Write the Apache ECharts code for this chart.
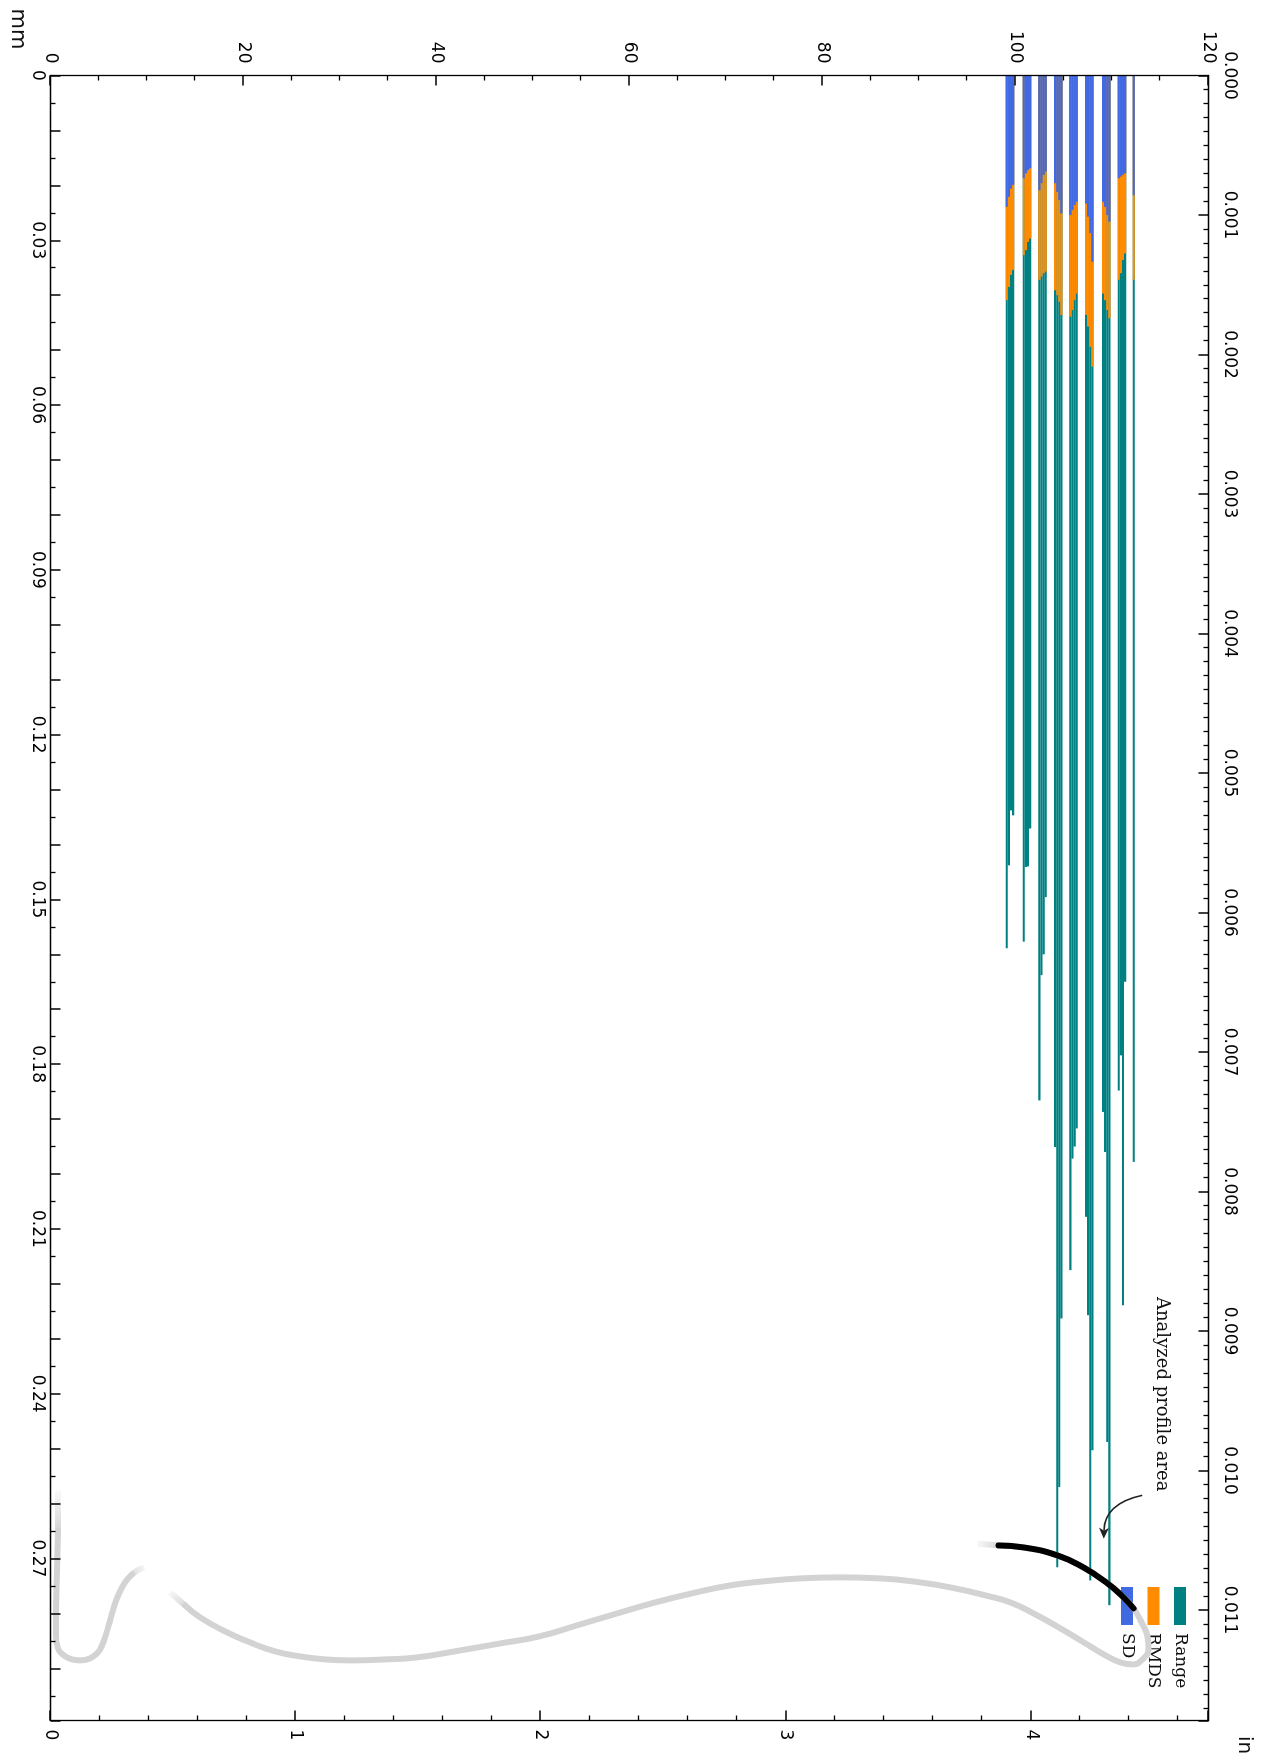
<!DOCTYPE html>
<html><head><meta charset="utf-8">
<script src="https://cdn.jsdelivr.net/npm/echarts@6/dist/echarts.min.js"></script>
<style>
html,body{margin:0;padding:0;width:1264px;height:1760px;overflow:hidden;background:#fff;}
#chart{position:absolute;left:0;top:0;width:1760px;height:1264px;transform-origin:0 0;transform:translate(1264px,0) rotate(90deg);}
</style></head><body><div id="chart"></div>
<script>
// ---------- data ----------
// bar positions on the 0-120 axis
const barPositions = [
  99.09, 99.31, 99.53, 99.75,
  100.86, 101.08, 101.30, 101.52,
  102.47, 102.69, 102.91, 103.13,
  104.10, 104.32, 104.54, 104.76,
  105.69, 105.91, 106.13, 106.35,
  107.31, 107.53, 107.75, 107.97,
  109.07, 109.29, 109.51, 109.73,
  110.70, 110.92, 111.14, 111.36,
  112.25
];
// bar lengths in mm
const sdValues = [
  0.0239, 0.0221, 0.0206, 0.0199,
  0.0187, 0.0178, 0.0172, 0.0169,
  0.0209, 0.0196, 0.0181, 0.0175,
  0.0196, 0.0212, 0.0227, 0.0251,
  0.0254, 0.0245, 0.0236, 0.0230,
  0.0233, 0.0257, 0.0287, 0.0339,
  0.0230, 0.0239, 0.0254, 0.0266,
  0.0187, 0.0184, 0.0181, 0.0178,
  0.0218
];
const rmdsValues = [
  0.0409, 0.0385, 0.0363, 0.0354,
  0.0327, 0.0318, 0.0303, 0.0297,
  0.0372, 0.0366, 0.0360, 0.0357,
  0.0391, 0.0400, 0.0412, 0.0436,
  0.0439, 0.0427, 0.0409, 0.0397,
  0.0436, 0.0457, 0.0494, 0.0530,
  0.0397, 0.0409, 0.0427, 0.0442,
  0.0372, 0.0360, 0.0336, 0.0324,
  0.0372
];
const rangeValues = [
  0.1589, 0.1438, 0.1338, 0.1347,
  0.1577, 0.1441, 0.1440, 0.1371,
  0.1866, 0.1638, 0.1600, 0.1496,
  0.1951, 0.2716, 0.2570, 0.2263,
  0.2175, 0.1972, 0.1950, 0.1917,
  0.2078, 0.2257, 0.2740, 0.2503,
  0.1887, 0.1960, 0.2488, 0.2785,
  0.1848, 0.1784, 0.2239, 0.1650,
  0.1978
];
// profile curve pieces: [mm, value on right axis]
const profileLeftFadeIn = [[0.25760,0.0306],[0.26488,0.0306]];
const profileLeft = [
  [0.26488,0.0306],[0.27217,0.0265],[0.27945,0.0224],[0.28400,0.0224],[0.28637,0.0306],
  [0.28765,0.0551],[0.28838,0.0878],[0.28856,0.1245],[0.28820,0.1612],[0.28729,0.1898],
  [0.28583,0.2102],[0.28383,0.2265],[0.28128,0.2429],[0.27873,0.2592],[0.27636,0.2796],
  [0.27436,0.3041],[0.27290,0.3327]
];
const profileLeftFadeOut = [[0.27290,0.3327],[0.27199,0.3612],[0.27163,0.3816]];
const profileMainFadeIn = [[0.27617,0.4878],[0.27854,0.5490]];
const profileMain = [
  [0.27854,0.5490],[0.28073,0.6102],[0.28328,0.7122],[0.28528,0.8143],[0.28692,0.9163],
  [0.28783,1.0184],[0.28838,1.1204],[0.28856,1.2224],[0.28838,1.3653],[0.28801,1.4959],
  [0.28674,1.6714],[0.28547,1.8347],[0.28419,1.9939],[0.28200,2.1612],[0.28000,2.3122],
  [0.27800,2.4673],[0.27617,2.6347],[0.27490,2.7735],[0.27417,2.9082],[0.27363,3.0592],
  [0.27344,3.2224],[0.27363,3.3857],[0.27436,3.5490],[0.27545,3.6918],[0.27673,3.8143],
  [0.27800,3.9163],[0.28019,4.0184],[0.28274,4.1204],[0.28547,4.2224],[0.28765,4.3041],
  [0.28893,4.3653],[0.28929,4.4143],[0.28838,4.4551],[0.28637,4.4796],[0.28419,4.4755],
  [0.28164,4.4510],[0.27909,4.4184],[0.27709,4.3776],[0.27454,4.3122],[0.27163,4.2143],
  [0.26945,4.1082],[0.26799,3.9694],[0.26763,3.8673]
];
const profileMainFadeOut = [[0.26763,3.8673],[0.26727,3.7816]];
const analyzedArea = [
  [0.27909,4.4184],[0.27709,4.3776],[0.27454,4.3122],[0.27163,4.2143],
  [0.26945,4.1082],[0.26799,3.9694],[0.26763,3.8673]
];
// tick labels
const mmTickLabels = ['0','0.03','0.06','0.09','0.12','0.15','0.18','0.21','0.24','0.27'];
const inTickLabels = ['0.000','0.001','0.002','0.003','0.004','0.005','0.006','0.007','0.008','0.009','0.010','0.011'];
const umTickLabels = ['0','20','40','60','80','100','120'];
const milTickLabels = ['0','1','2','3','4'];
const seriesNames = ['Range','RMDS','SD'];
// annotation anchor points [mm, value on right axis]
const annotationText = 'Analyzed profile area';
const annotationTextAt = [0.2401, 4.535];
const arrowFrom = [0.2585, 4.454];
const arrowCtrl = [0.2600, 4.300];
const arrowTo = [0.2664, 4.297];

// ---------- axis extents ----------
const MM_MAX = 0.2995, IN_MAX = MM_MAX / 25.4, UM_MAX = 120, MIL_MAX = UM_MAX / 25.4;
const BAR_THICK = 0.22;
const GRAY = '#d3d3d3';

const chart = echarts.init(document.getElementById('chart'), null, {renderer: 'canvas', width: 1760, height: 1264});

function axisBase(extra) {
  return Object.assign({
    type: 'value',
    axisLine: {show: true, onZero: false, lineStyle: {color: '#000', width: 1.3}},
    axisTick: {show: true, inside: true, length: 10, lineStyle: {color: '#000', width: 1.5}},
    splitLine: {show: false},
    z: 10
  }, extra);
}
function minor(n) {
  return {show: true, splitNumber: n, length: 5, lineStyle: {color: '#000', width: 1.3}};
}
function labelStyle(margin, list, digits) {
  return {
    show: true, margin: margin, fontFamily: 'DejaVu Sans', fontSize: 17, color: '#000',
    formatter: function (v) {
      const s = digits === 0 ? String(Math.round(v)) : (Math.abs(v) < 1e-12 && list[0] === '0' ? '0' : v.toFixed(digits));
      if (list.indexOf(s) < 0) return '';
      if (Math.abs(v - parseFloat(s)) > 1e-9) return '';
      return s;
    }
  };
}

function barRenderer(color) {
  return function (params, api) {
    const v = api.value(0), y = api.value(1);
    const p0 = api.coord([0, y]);
    const p1 = api.coord([v, y]);
    const h = Math.abs(api.size([0, BAR_THICK])[1]);
    return {type: 'rect', shape: {x: p0[0], y: p0[1] - h / 2, width: p1[0] - p0[0], height: h},
            style: {fill: color}};
  };
}
function barSeries(name, values, color) {
  return {
    name: name, type: 'custom', xAxisIndex: 0, yAxisIndex: 0,
    itemStyle: {color: color},
    encode: {x: 0, y: 1},
    data: values.map((v, i) => [v, barPositions[i]]),
    renderItem: barRenderer(color), z: 2, silent: true
  };
}
function grad(x0, y0, x1, y1) {
  return new echarts.graphic.LinearGradient(x0, y0, x1, y1, [
    {offset: 0, color: 'rgba(211,211,211,0.05)'},
    {offset: 1, color: 'rgba(211,211,211,1)'}
  ]);
}
function curve(name, data, color, width, cap, z, sm) {
  return {type: 'line', name: name, xAxisIndex: 0, yAxisIndex: 1, data: data, smooth: sm,
    symbol: 'none', lineStyle: {color: color, width: width, cap: cap, join: 'round'}, z: z, silent: true};
}

const option = {
  animation: false,
  backgroundColor: '#fff',
  grid: {left: 75.5, right: 39.5, top: 55.5, bottom: 50.5, containLabel: false},
  xAxis: [
    axisBase({position: 'bottom', min: 0, max: MM_MAX, interval: 0.01, minorTick: minor(2),
      axisLabel: labelStyle(5, mmTickLabels, 2)}),
    axisBase({position: 'top', min: 0, max: IN_MAX, interval: 0.001, minorTick: minor(10),
      axisLabel: labelStyle(12, inTickLabels, 3)})
  ],
  yAxis: [
    axisBase({position: 'left', min: 0, max: UM_MAX, interval: 20, minorTick: minor(4),
      axisLabel: labelStyle(12, umTickLabels, 0)}),
    axisBase({position: 'right', min: 0, max: MIL_MAX, interval: 1, minorTick: minor(5),
      axisLabel: labelStyle(9, milTickLabels, 0)})
  ],
  legend: {
    data: seriesNames, orient: 'vertical', left: 1582, top: 69, icon: 'rect',
    itemWidth: 38, itemHeight: 12, itemGap: 6.5, z: 1,
    textStyle: {fontFamily: 'DejaVu Serif', fontSize: 17, color: '#111', lineHeight: 20, padding: [0, 0, 0, 3]}
  },
  series: [
    barSeries('Range', rangeValues, '#008080'),
    barSeries('RMDS', rmdsValues, '#ff8c00'),
    barSeries('SD', sdValues, '#4169e1'),
    curve('p1in', profileLeftFadeIn, grad(0, 0, 1, 0), 6, 'butt', 3, 0.3),
    curve('p1', profileLeft, GRAY, 6, 'round', 3, 0.5),
    curve('p1out', profileLeftFadeOut, grad(0, 0, 1, 1), 6, 'butt', 3, 0.3),
    curve('p2in', profileMainFadeIn, grad(0, 1, 1, 0), 6, 'butt', 3, 0.3),
    curve('p2', profileMain, GRAY, 6, 'round', 3, 0.5),
    curve('p2out', profileMainFadeOut, grad(0, 1, 1, 0), 6, 'butt', 3, 0.3),
    curve('analyzed', analyzedArea, '#000', 6, 'round', 4, 0.5)
  ]
};
chart.setOption(option);

// annotation (positions converted through the axes)
const toPx = p => chart.convertToPixel({xAxisIndex: 0, yAxisIndex: 1}, p);
const tP = toPx(annotationTextAt), aS = toPx(arrowFrom), aC = toPx(arrowCtrl), aE = toPx(arrowTo);
let dx = aE[0] - aC[0], dy = aE[1] - aC[1];
const dl = Math.hypot(dx, dy); dx /= dl; dy /= dl;
const headL = 11, headW = 5;
const base = [aE[0] - dx * headL, aE[1] - dy * headL];
chart.setOption({
  graphic: [
    {type: 'text', x: 29, y: 1247, style: {text: 'mm', font: '21px "DejaVu Sans"', fill: '#111', textAlign: 'center', textVerticalAlign: 'middle'}},
    {type: 'text', x: 1745, y: 20, style: {text: 'in', font: '20px "DejaVu Sans"', fill: '#111', textAlign: 'center', textVerticalAlign: 'middle'}},
    {type: 'text', x: tP[0], y: tP[1], z: 20, style: {text: annotationText, font: '18px "DejaVu Serif"', fill: '#111', textAlign: 'center', textVerticalAlign: 'middle'}},
    {type: 'bezierCurve', z: 20, shape: {x1: aS[0], y1: aS[1], cpx1: aC[0], cpy1: aC[1], x2: base[0] + dx * 3, y2: base[1] + dy * 3},
     style: {stroke: '#222', lineWidth: 1.5, fill: null}},
    {type: 'polygon', z: 20, shape: {points: [[aE[0], aE[1]], [base[0] - dy * headW, base[1] + dx * headW], [base[0] + dx * 3, base[1] + dy * 3], [base[0] + dy * headW, base[1] - dx * headW]]},
     style: {fill: '#222'}}
  ]
});
</script></body></html>
